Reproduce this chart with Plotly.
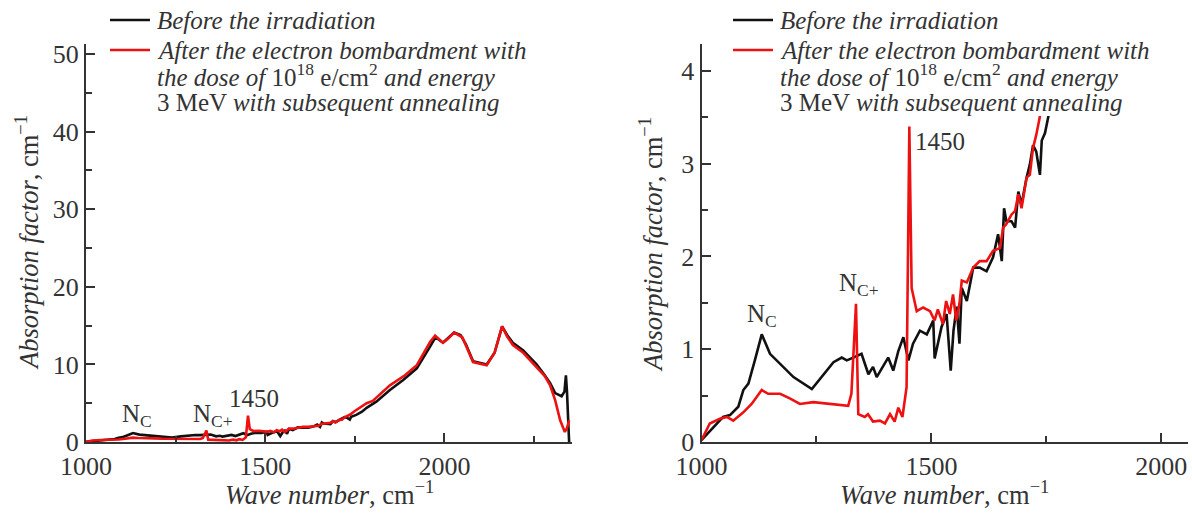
import plotly.graph_objects as go

# ---------------- data ----------------
wn_before = [1000, 1026, 1047, 1062, 1080, 1091, 1102, 1116, 1131, 1149, 1171, 1200, 1240, 1265, 1287,
             1305, 1316, 1330, 1348, 1363, 1373, 1381, 1395, 1406, 1417, 1428, 1439, 1450, 1460, 1475,
             1490, 1504, 1507, 1522, 1533, 1542, 1548, 1555, 1561, 1566, 1577, 1591, 1605, 1620, 1634,
             1645, 1653, 1658, 1663, 1674, 1682, 1689, 1696, 1707, 1714, 1721, 1728, 1736, 1740, 1747,
             1754, 1770, 1783, 1810, 1848, 1885, 1923, 1960, 1975, 1996, 2010, 2027, 2045, 2060, 2080,
             2100, 2118, 2140, 2161, 2175, 2191, 2220, 2257, 2280, 2295, 2309, 2327, 2335, 2339, 2342,
             2345, 2348]
ab_before = [0.02, 0.16, 0.27, 0.29, 0.38, 0.56, 0.63, 0.88, 1.16, 0.95, 0.84, 0.70, 0.57, 0.73, 0.86,
             0.91, 0.88, 0.91, 0.95, 0.73, 0.81, 0.70, 0.81, 0.91, 0.77, 0.98, 1.13, 0.88, 1.06, 1.20,
             1.16, 1.31, 0.90, 1.24, 1.38, 0.77, 1.20, 1.46, 1.06, 1.66, 1.52, 1.88, 1.88, 1.84, 1.99,
             2.24, 1.95, 2.52, 2.38, 2.38, 2.31, 2.70, 2.56, 2.85, 2.99, 3.20, 3.13, 2.88, 3.25, 3.33,
             3.50, 3.90, 4.40, 5.20, 6.70, 8.00, 9.50, 12.3, 13.5, 12.8, 13.4, 14.1, 13.8, 12.6, 10.4,
             10.2, 10.0, 11.5, 14.9, 13.8, 12.8, 11.8, 10.0, 8.6, 7.6, 6.3, 5.9, 6.5, 8.6, 6.5,
             2.0, 0.0]

wn_after = [1000, 1018, 1040, 1055, 1069, 1091, 1109, 1131, 1145, 1171, 1192, 1214, 1243, 1279, 1319,
            1326, 1336, 1341, 1355, 1362, 1373, 1388, 1399, 1410, 1420, 1428, 1437, 1446, 1452, 1457,
            1468, 1482, 1497, 1507, 1514, 1525, 1532, 1540, 1547, 1554, 1561, 1566, 1577, 1591, 1605,
            1620, 1634, 1649, 1656, 1663, 1674, 1682, 1689, 1696, 1707, 1714, 1721, 1728, 1736, 1750,
            1760, 1783, 1800, 1848, 1890, 1923, 1960, 1974, 1996, 2010, 2027, 2050, 2080, 2100, 2118,
            2140, 2161, 2175, 2191, 2220, 2257, 2280, 2295, 2309, 2323, 2336, 2342, 2348]
ab_after = [0.02, 0.20, 0.25, 0.27, 0.23, 0.32, 0.41, 0.56, 0.52, 0.52, 0.47, 0.41, 0.43, 0.41, 0.39,
            0.52, 1.49, 0.30, 0.27, 0.30, 0.22, 0.23, 0.20, 0.30, 0.22, 0.37, 0.27, 0.59, 3.40, 1.66,
            1.41, 1.45, 1.41, 1.31, 1.43, 1.27, 1.52, 1.38, 1.59, 1.31, 1.49, 1.74, 1.72, 1.88, 1.95,
            1.95, 2.06, 2.09, 2.31, 2.35, 2.45, 2.49, 2.67, 2.52, 2.85, 2.88, 3.17, 3.31, 3.51, 4.00,
            4.30, 5.00, 5.30, 7.30, 8.60, 9.90, 12.9, 13.7, 12.8, 13.3, 14.1, 13.5, 10.3, 10.1, 9.9,
            11.5, 14.9, 13.6, 12.5, 11.5, 9.7, 8.5, 7.3, 5.4, 2.8, 1.3, 1.8, 2.8]

x_ticks = [1000, 1500, 2000]
x_ticktext = ["1000", "1500", "2000"]
y_ticks_left = [0, 10, 20, 30, 40, 50]
y_ticks_right = [0, 1, 2, 3, 4]

legend_before = ["<i>Before the irradiation</i>"]
legend_after = ["<i>After the electron bombardment with</i>",
                "<i>the dose of</i> 10<sup>18</sup> e/cm<sup>2</sup> <i>and energy</i>",
                "3 MeV <i>with subsequent annealing</i>"]

# ---------------- style ----------------
FONT = "Liberation Serif"
AX = "#333333"
BLACK = "#111111"
RED = "#ee1111"
W, H = 1192, 516

def fx(px):
    return px / W

def fy(py):
    return (H - py) / H

fig = go.Figure()
for xa, ya in [("x", "y"), ("x2", "y2")]:
    fig.add_trace(go.Scatter(x=wn_before, y=ab_before, mode="lines", name="Before the irradiation",
                             line=dict(color=BLACK, width=2.6), xaxis=xa, yaxis=ya, showlegend=False))
    fig.add_trace(go.Scatter(x=wn_after, y=ab_after, mode="lines",
                             name="After the electron bombardment",
                             line=dict(color=RED, width=2.6), xaxis=xa, yaxis=ya, showlegend=False))

TICKFONT = dict(family=FONT, size=26, color=AX)
common_x = dict(tickvals=x_ticks, ticktext=x_ticktext, ticks="inside", ticklen=9, tickwidth=1.5,
                tickcolor=AX, showline=True, linecolor=AX, linewidth=2, showgrid=False, zeroline=False,
                tickfont=TICKFONT, automargin=False,
                minor=dict(dtick=250, tick0=1000, ticks="inside", ticklen=6, tickwidth=1.5, tickcolor=AX))
common_y = dict(ticks="inside", ticklen=9, tickwidth=1.5, tickcolor=AX, showline=True, linecolor=AX,
                linewidth=2, showgrid=False, zeroline=False, automargin=False, tickfont=TICKFONT)

fig.update_layout(
    template="none",
    width=W, height=H, margin=dict(l=0, r=0, t=0, b=0, pad=0), autosize=False,
    paper_bgcolor="white", plot_bgcolor="white", showlegend=False,
    font=dict(family=FONT, color=AX, size=25),
    xaxis=dict(common_x, domain=[fx(86), fx(572)], range=[1000, 2356], anchor="y"),
    xaxis2=dict(common_x, domain=[fx(701.5), fx(1188)], range=[1000, 2058], anchor="y2"),
    yaxis=dict(common_y, domain=[fy(442), fy(44)], range=[0, 51.3], tickvals=y_ticks_left,
               minor=dict(dtick=5, ticks="inside", ticklen=6, tickwidth=1.5, tickcolor=AX), anchor="x"),
    yaxis2=dict(common_y, domain=[fy(442), fy(44)], range=[0, 4.29], tickvals=y_ticks_right,
                minor=dict(dtick=0.5, ticks="inside", ticklen=6, tickwidth=1.5, tickcolor=AX), anchor="x2"),
)

ann_font = dict(family=FONT, size=25, color=AX)
title_font = dict(family=FONT, size=26.5, color=AX)

def ann(text, x, y, xref, yref, font=ann_font, xanchor="center", **kw):
    return dict(text=text, x=x, y=y, xref=xref, yref=yref, showarrow=False, font=font,
                xanchor=xanchor, yanchor="middle", **kw)

annotations = [
    ann("N<sub>C</sub>", 1143, 3.4, "x", "y"),
    ann("N<sub>C+</sub>", 1355, 3.4, "x", "y"),
    ann("1450", 1469, 5.6, "x", "y"),
    ann("N<sub>C</sub>", 1131, 1.36, "x2", "y2"),
    ann("N<sub>C+</sub>", 1342, 1.70, "x2", "y2"),
    ann("1450", 1518, 3.24, "x2", "y2"),
    ann("<i>Wave number</i>, cm<sup>\u22121</sup>", fx(329), fy(493), "paper", "paper", font=title_font),
    ann("<i>Wave number</i>, cm<sup>\u22121</sup>", fx(944), fy(493), "paper", "paper", font=title_font),
    ann("<i>Absorption factor</i>, cm<sup>\u22121</sup>", fx(27), fy(243), "paper", "paper",
        font=title_font, textangle=-90),
    ann("<i>Absorption factor</i>, cm<sup>\u22121</sup>", fx(651), fy(245), "paper", "paper",
        font=title_font, textangle=-90),
]

shapes = []
# legend blocks (white background hides curves beneath, as in the reference)
for lx in (110, 733):
    shapes.append(dict(type="rect", xref="paper", yref="paper", layer="above",
                       x0=fx(lx - 3), x1=fx(lx + 425), y0=fy(116), y1=fy(0),
                       fillcolor="white", line=dict(width=0)))
    shapes.append(dict(type="line", xref="paper", yref="paper", layer="above",
                       x0=fx(lx), x1=fx(lx + 40), y0=fy(20), y1=fy(20),
                       line=dict(color=BLACK, width=2.6)))
    shapes.append(dict(type="line", xref="paper", yref="paper", layer="above",
                       x0=fx(lx), x1=fx(lx + 40), y0=fy(50), y1=fy(50),
                       line=dict(color=RED, width=2.6)))
    tx = lx + 45
    annotations.append(ann(legend_before[0], fx(tx), fy(21), "paper", "paper", xanchor="left"))
    for text, py in zip(legend_after, (51, 75, 102)):
        annotations.append(ann(text, fx(tx), fy(py), "paper", "paper", xanchor="left"))

fig.update_layout(annotations=annotations, shapes=shapes)

fig.write_html("out.html")
